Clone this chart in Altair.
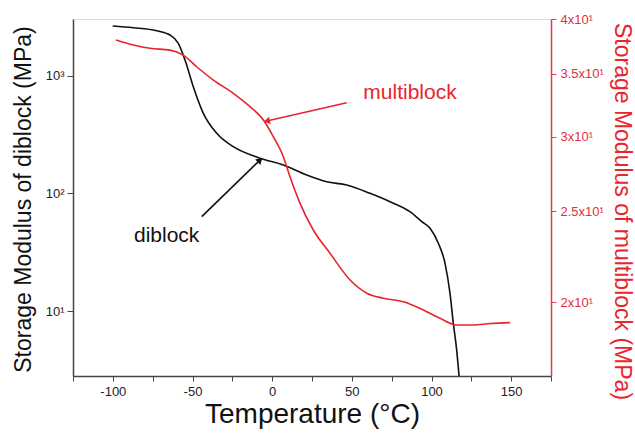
import altair as alt
import pandas as pd

# ---- data ----
di_T = [-100.1, -87.2, -72.5, -64.1, -58.9, -54.7, -49.5, -43.2, -34.8, -24.4, -7.6, 7.0,
        21.7, 34.2, 46.8, 61.4, 74.0, 86.5, 93.9, 99.1, 104.3, 108.5, 111.6, 113.7, 115.8, 117.3]
di_E = [2651, 2565, 2418, 2223, 1890, 1363, 808, 480, 324.7, 249.8, 199.5, 174.6,
        143.6, 125.9, 118, 100.3, 85.1, 70.0, 57.6, 50.6, 37.7, 25.5, 14.2, 7.88, 4.67, 2.81]

mb_T = [-98.0, -87.1, -76.7, -64.1, -55.8, -47.4, -36.9, -24.4, -13.9, -5.5, 0.7, 7.0, 11.2,
        17.5, 25.8, 36.3, 48.9, 59.4, 69.8, 82.4, 94.9, 105.4, 115.8, 126.3, 136.8, 149.3]
mb_E = [37.99, 37.53, 37.23, 37.07, 36.62, 35.59, 34.45, 33.35, 32.28, 31.24, 29.99, 28.56, 27.19,
        25.48, 23.87, 22.55, 21.12, 20.45, 20.20, 20.03, 19.63, 19.23, 18.92, 18.92, 18.99, 19.03]

lab_text = ["multiblock", "diblock"]
lab_T = [86.5, -66.2]
lab_E = [631.6, 38.9]
lab_col = ["#e8242c", "#111111"]

arr_T = [46.8, -44.2]
arr_E = [590.9, 63.5]
arr_T2 = [-3.4, -7.6]
arr_E2 = [413.0, 192.5]
arr_ang = [257, 46]
arr_col = ["#e8242c", "#111111"]

x_ticks = [-125, -100, -75, -50, -25, 0, 25, 50, 75, 100, 125, 150, 175]
left_ticks = [10, 100, 1000]
right_ticks = [20, 25, 30, 35, 40]

# ---- tables ----
df_di = pd.DataFrame({"T": di_T, "v": di_E})
df_mb = pd.DataFrame({"T": mb_T, "v": mb_E})
df_lab = pd.DataFrame({"T": lab_T, "v": lab_E, "label": lab_text, "col": lab_col})
df_arr = pd.DataFrame({"T": arr_T, "v": arr_E, "T2": arr_T2, "v2": arr_E2, "col": arr_col})
df_head = pd.DataFrame({"T": arr_T2, "v": arr_E2, "ang": arr_ang, "col": arr_col})

FONT = "Liberation Sans"
RED_AX = "#e0404c"

xscale = alt.Scale(domain=[-125, 175], nice=False, zero=False)
xaxis = alt.Axis(values=x_ticks,
                 labelExpr="datum.value % 50 == 0 ? '' + datum.value : ''",
                 title="Temperature (°C)", titleFontSize=28, titleFontWeight="normal",
                 titleColor="#111", titleY=38, titleBaseline="middle",
                 labelFontSize=13, labelColor="#222", labelPadding=4,
                 tickSize=5, tickColor="#444", domainColor="#444", domainWidth=1.5,
                 grid=False, labelFont=FONT, titleFont=FONT)

lscale = alt.Scale(type="log", domain=[2.81, 3040], nice=False)
laxis = alt.Axis(values=left_ticks,
                 labelExpr="datum.value == 10 ? '10¹' : datum.value == 100 ? '10²' : '10³'",
                 title="Storage Modulus of diblock (MPa)", titleFontSize=23,
                 titleFontWeight="normal", titleColor="#111",
                 titleX=-50, titleY=180, titleAngle=-90, titleAlign="center",
                 titleBaseline="middle",
                 labelFontSize=13, labelColor="#222", labelPadding=3,
                 tickSize=6, tickColor="#444", domainColor="#444", domainWidth=1.5,
                 grid=False, labelFont=FONT, titleFont=FONT)

rscale = alt.Scale(type="log", domain=[16.7, 40], nice=False)
raxis = alt.Axis(orient="right", values=right_ticks,
                 labelExpr="(datum.value / 10) + 'x10¹'",
                 title="Storage Modulus of multiblock (MPa)", titleFontSize=23,
                 titleFontWeight="normal", titleColor="#e8242c",
                 titleX=70, titleY=192, titleAngle=90, titleAlign="center",
                 titleBaseline="middle",
                 labelFontSize=13, labelColor="#e03040", labelPadding=4,
                 tickSize=5, tickColor=RED_AX, domainColor=RED_AX, domainWidth=1.5,
                 grid=False, labelFont=FONT, titleFont=FONT)


def X(field="T"):
    return alt.X(f"{field}:Q", scale=xscale, axis=xaxis)


def YL(field="v"):
    return alt.Y(f"{field}:Q", scale=lscale, axis=laxis)


di_line = alt.Chart(df_di).mark_line(color="#111111", strokeWidth=1.6,
                                     interpolate="monotone", clip=True).encode(x=X(), y=YL())

labels = alt.Chart(df_lab).mark_text(fontSize=21, font=FONT, align="center",
                                     baseline="alphabetic").encode(
    x=X(), y=YL(), text="label:N", color=alt.Color("col:N", scale=None))

arrows = alt.Chart(df_arr).mark_rule(strokeWidth=1.6).encode(
    x=X(), y=YL(), x2="T2:Q", y2="v2:Q", color=alt.Color("col:N", scale=None))

heads = alt.Chart(df_head).mark_point(shape="triangle-up", filled=True, size=55,
                                      opacity=1).encode(
    x=X(), y=YL(), angle=alt.Angle("ang:Q", scale=None),
    color=alt.Color("col:N", scale=None))

left = alt.layer(di_line, arrows, heads, labels)

mb_line = alt.Chart(df_mb).mark_line(color="#e8242c", strokeWidth=1.6,
                                     interpolate="monotone", clip=True).encode(
    x=X(), y=alt.Y("v:Q", scale=rscale, axis=raxis))

chart = alt.layer(left, mb_line).resolve_scale(y="independent").properties(
    width=478, height=357,
    autosize=alt.AutoSizeParams(type="none"),
    padding={"left": 73, "top": 19, "right": 84, "bottom": 57},
).configure_view(stroke="#555555", strokeWidth=1.5).configure(background="white")

chart.save("out.html", embed_options={"renderer": "svg", "actions": False})
